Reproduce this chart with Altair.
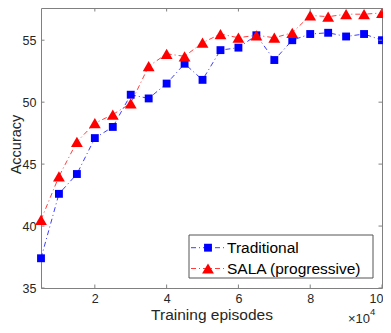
import altair as alt
import pandas as pd

# ---------------- data ----------------
episodes = [5000, 10000, 15000, 20000, 25000, 30000, 35000, 40000, 45000, 50000,
            55000, 60000, 65000, 70000, 75000, 80000, 85000, 90000, 95000, 100000]
traditional = [37.4, 42.6, 44.2, 47.1, 48.0, 50.6, 50.3, 51.5, 53.1, 51.8,
               54.2, 54.4, 55.4, 53.4, 55.0, 55.5, 55.6, 55.3, 55.5, 55.0]
sala = [40.5, 44.0, 46.8, 48.3, 49.0, 49.9, 52.9, 53.9, 53.7, 54.8,
        55.5, 55.2, 55.4, 55.2, 55.6, 57.0, 56.9, 57.1, 57.1, 57.2]
series_names = ["Traditional", "SALA (progressive)"]
series_colors = ["#0000FF", "#FF0000"]
series_shapes = ["square", "triangle-up"]
x_ticks = [20000, 40000, 60000, 80000, 100000]
y_ticks = [35, 40, 45, 50, 55]
x_title = "Training episodes"
y_title = "Accuracy"
exp_base = "\u00d710"
exp_power = "4"

# ---------------- layout / style ----------------
W, H = 341, 280
FONT = "Liberation Sans"
TXT = "#262626"
FRAME = "#808080"
TICK = 3.5
marker_sizes = [62, 140]

df = pd.DataFrame({
    "episodes": episodes + episodes,
    "accuracy": traditional + sala,
    "series": [series_names[0]] * len(episodes) + [series_names[1]] * len(episodes),
})

xscale = alt.Scale(domain=[5000, 100000], nice=False, zero=False)
yscale = alt.Scale(domain=[35, 57.6], nice=False, zero=False)
color_scale = alt.Scale(domain=series_names, range=series_colors)

x_enc = alt.X("episodes:Q", scale=xscale, axis=alt.Axis(
    values=x_ticks, labelExpr="datum.value / 10000", title=x_title,
    ticks=False, domain=False, grid=False, labelPadding=4,
    labelFlush=True, labelFlushOffset=1,
    titleY=26, titleBaseline="middle"))
y_enc = alt.Y("accuracy:Q", scale=yscale, axis=alt.Axis(
    values=y_ticks, title=y_title, ticks=False, domain=False, grid=False,
    labelPadding=5, titleX=-25, titleY=136, titleBaseline="middle",
    titleFontSize=14.5))

base = alt.Chart(df)
lines = base.mark_line(strokeWidth=0.9, strokeDash=[5, 3, 1, 3], opacity=0.85).encode(
    x=x_enc, y=y_enc,
    color=alt.Color("series:N", scale=color_scale, legend=None),
    detail="series:N",
)

point_layers = []
for name, col, shp, sz in zip(series_names, series_colors, series_shapes, marker_sizes):
    point_layers.append(
        base.transform_filter(alt.datum.series == name)
        .mark_point(filled=True, opacity=1, color=col, shape=shp, size=sz)
        .encode(x=alt.X("episodes:Q", scale=xscale), y=alt.Y("accuracy:Q", scale=yscale))
    )

# inward ticks on all four sides
xt = alt.Chart(pd.DataFrame({"t": x_ticks}))
yt = alt.Chart(pd.DataFrame({"t": y_ticks}))
tick_layers = [
    xt.mark_rule(color=FRAME, strokeWidth=1).encode(x=alt.X("t:Q", scale=xscale), y=alt.value(H), y2=alt.value(H - TICK)),
    xt.mark_rule(color=FRAME, strokeWidth=1).encode(x=alt.X("t:Q", scale=xscale), y=alt.value(0), y2=alt.value(TICK)),
    yt.mark_rule(color=FRAME, strokeWidth=1).encode(y=alt.Y("t:Q", scale=yscale), x=alt.value(0), x2=alt.value(TICK)),
    yt.mark_rule(color=FRAME, strokeWidth=1).encode(y=alt.Y("t:Q", scale=yscale), x=alt.value(W), x2=alt.value(W - TICK)),
]

# manual legend
one = alt.Chart(pd.DataFrame({"k": [0]}))
legend_layers = [
    one.mark_rect(fill="white", stroke="#555555", strokeWidth=1).encode(
        x=alt.value(148), x2=alt.value(332), y=alt.value(227), y2=alt.value(270)),
]
row_y = [239.7, 260.5]
for name, col, shp, sz, ry in zip(series_names, series_colors, series_shapes, marker_sizes, row_y):
    legend_layers.append(
        one.mark_rule(color=col, strokeWidth=0.9, strokeDash=[5, 3, 1, 3], opacity=0.85).encode(
            x=alt.value(150), x2=alt.value(183), y=alt.value(ry)))
    legend_layers.append(
        one.mark_point(filled=True, opacity=1, color=col, shape=shp, size=sz).encode(
            x=alt.value(167), y=alt.value(ry)))
    legend_layers.append(
        alt.Chart(pd.DataFrame({"label": [name]})).mark_text(
            align="left", baseline="middle", font=FONT, fontSize=15.5, color="black").encode(
            text="label:N", x=alt.value(186), y=alt.value(ry + 0.5)))

# x10^4 multiplier
exp_layers = [
    alt.Chart(pd.DataFrame({"s": [exp_base]})).mark_text(
        align="left", baseline="middle", font=FONT, fontSize=13, color=TXT).encode(
        text="s:N", x=alt.value(307), y=alt.value(311)),
    alt.Chart(pd.DataFrame({"s": [exp_power]})).mark_text(
        align="left", baseline="middle", font=FONT, fontSize=9.5, color=TXT).encode(
        text="s:N", x=alt.value(329), y=alt.value(303.6)),
]

chart = alt.layer(lines, *point_layers, *tick_layers, *legend_layers, *exp_layers).properties(
    width=W, height=H,
    autosize="none",
    padding={"left": 33, "top": 0, "right": 1, "bottom": 37},
    background="white",
).configure_view(
    stroke=FRAME, strokeWidth=1
).configure_axis(
    labelFont=FONT, labelFontSize=12.5, labelColor=TXT,
    titleFont=FONT, titleFontSize=15.5, titleFontWeight="normal", titleColor=TXT,
)

chart.save("out.html", embed_options={"renderer": "svg", "actions": False})
